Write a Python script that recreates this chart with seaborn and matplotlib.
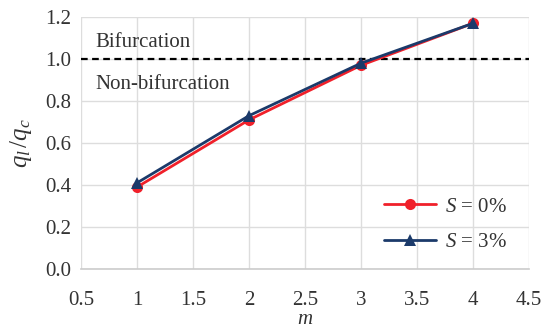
import numpy as np
import pandas as pd
import matplotlib
matplotlib.use("Agg")
import matplotlib.pyplot as plt
import seaborn as sns

m_values = [1, 2, 3, 4]
ratio_s0 = [0.39, 0.71, 0.97, 1.17]
ratio_s3 = [0.41, 0.73, 0.98, 1.17]
series_labels = ["$S$ = 0%", "$S$ = 3%"]
x_ticks = [0.5, 1, 1.5, 2, 2.5, 3, 3.5, 4, 4.5]
x_tick_labels = ["0.5", "1", "1.5", "2", "2.5", "3", "3.5", "4", "4.5"]

sns.set_style("whitegrid")
plt.rcParams['font.family'] = ['Liberation Serif', 'DejaVu Serif']
plt.rcParams['mathtext.fontset'] = 'custom'
plt.rcParams['mathtext.rm'] = 'Liberation Serif'
plt.rcParams['mathtext.it'] = 'Liberation Serif:italic'

txt = "#333333"

df = pd.DataFrame({
    "m": m_values * 2,
    "ratio": ratio_s0 + ratio_s3,
    "series": [series_labels[0]] * 4 + [series_labels[1]] * 4,
})

fig = plt.figure(figsize=(5.42, 3.30), dpi=100)
ax = fig.add_axes([81 / 542, 61 / 330, 448 / 542, 252 / 330])

sns.lineplot(data=df, x="m", y="ratio", hue="series", style="series",
             palette=["#f0202a", "#1b3a6a"], markers=["o", "^"], dashes=False,
             markersize=8, linewidth=2, markeredgewidth=0, ax=ax)

ax.axhline(1.0, color="black", linestyle=(0, (3, 2)), linewidth=1.6, zorder=1)
ax.text(0.63, 1.057, "Bifurcation", fontsize=15, color=txt, va="baseline")
ax.text(0.63, 0.924, "Non-bifurcation", fontsize=15, color=txt, va="top")

ax.set_xlim(0.5, 4.5)
ax.set_ylim(0.0, 1.2)
ax.set_xticks(x_ticks)
ax.set_xticklabels(x_tick_labels)
ax.set_yticks(np.arange(0, 1.21, 0.2))
ax.set_yticklabels([f"{v:.1f}" for v in np.arange(0, 1.21, 0.2)])
ax.tick_params(labelsize=15, colors=txt, length=0)
ax.tick_params(axis="x", pad=16)
ax.tick_params(axis="y", pad=7)
ax.grid(True, color="#dddddd", linewidth=1)
for sp in ax.spines.values():
    sp.set_visible(False)
ax.spines["bottom"].set_visible(True)
ax.spines["bottom"].set_color("#cccccc")
ax.spines["bottom"].set_linewidth(1.2)

ax.set_xlabel("$m$", fontsize=15, labelpad=0, color=txt)
ax.set_ylabel("$q_l\\,/q_c$", fontsize=18, labelpad=8, color=txt)

leg = ax.legend(loc="upper left", bbox_to_anchor=(0.676, 0.285), fontsize=15,
                frameon=False, borderaxespad=0, borderpad=0, handlelength=2.5,
                handletextpad=0.45, labelspacing=0.75)
for t in leg.get_texts():
    t.set_color(txt)

fig.savefig("out.png", dpi=100)
